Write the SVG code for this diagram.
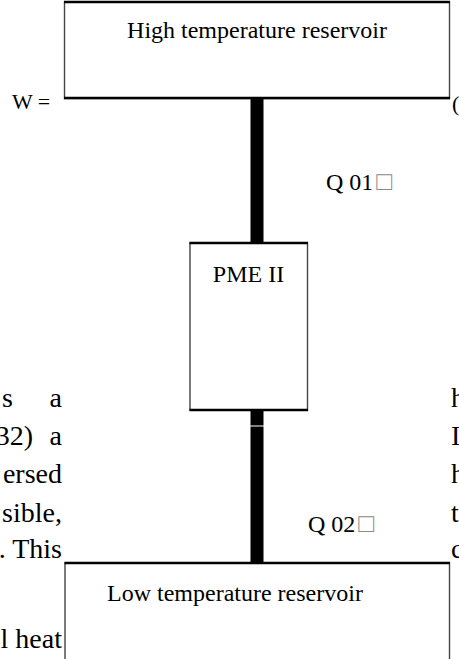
<svg xmlns="http://www.w3.org/2000/svg" width="459" height="659" viewBox="0 0 459 659">
<style>
.para{font-family:"Liberation Serif","Times New Roman",serif;font-size:28px;fill:#000}
.small{font-family:"Liberation Serif","Times New Roman",serif;font-size:22px;fill:#000}
.lbl{font-family:"Liberation Serif","Times New Roman",serif;font-size:24px;fill:#000}
.tofu{fill:#8a8a8a;font-family:"Liberation Serif","DejaVu Sans",serif;font-size:26px}
.box{fill:#fff;stroke:#444;stroke-width:1.4}
.edge{stroke:#000;stroke-width:2.6;fill:none}
.conn{stroke:#000;stroke-width:13;fill:none}
</style>
<rect x="0" y="0" width="459" height="659" fill="#fff"/>
<g id="paragraph">
  <text class="small" x="12" y="109">W =</text>
  <text class="small" x="452" y="111">(</text>
  <text class="para" x="13" y="407" text-anchor="end">s</text>
  <text class="para" x="62" y="407" text-anchor="end">a</text>
  <text class="para" x="33" y="445" text-anchor="end">32)</text>
  <text class="para" x="62" y="445" text-anchor="end">a</text>
  <text class="para" x="62" y="483" text-anchor="end">ersed</text>
  <text class="para" x="62" y="522" text-anchor="end">sible,</text>
  <text class="para" x="62" y="558" text-anchor="end">. This</text>
  <text class="para" x="62" y="648" text-anchor="end">l heat</text>
  <text class="para" x="451" y="407">h</text>
  <text class="para" x="451" y="445">I</text>
  <text class="para" x="451" y="483">h</text>
  <text class="para" x="451" y="522">t</text>
  <text class="para" x="451" y="558">c</text>
</g>
<g id="connectors">
  <line class="conn" x1="257" y1="98" x2="257" y2="243"/>
  <line class="conn" x1="257" y1="410" x2="257" y2="425.5"/>
  <line class="conn" x1="257" y1="426.5" x2="257" y2="563"/>
  <text class="lbl" x="326" y="190">Q 01<tspan class="tofu" dx="3">□</tspan></text>
  <text class="lbl" x="308" y="532">Q 02<tspan class="tofu" dx="3">□</tspan></text>
</g>
<g id="high-reservoir">
  <rect class="box" x="64.5" y="2" width="385" height="96.5"/>
  <line class="edge" x1="64" y1="2" x2="450" y2="2"/>
  <line class="edge" x1="64" y1="98" x2="450" y2="98"/>
  <text class="lbl" x="257" y="38" text-anchor="middle">High temperature reservoir</text>
</g>
<g id="pme-ii">
  <rect class="box" x="190" y="243" width="117.5" height="167"/>
  <line class="edge" x1="189.5" y1="243" x2="308" y2="243"/>
  <line class="edge" x1="189.5" y1="410" x2="308" y2="410"/>
  <text class="lbl" x="248.5" y="282" text-anchor="middle">PME II</text>
</g>
<g id="low-reservoir">
  <rect class="box" x="65" y="563" width="384.5" height="110"/>
  <line class="edge" x1="64.5" y1="563" x2="450" y2="563"/>
  <text class="lbl" x="107" y="601">Low temperature reservoir</text>
</g>
</svg>
